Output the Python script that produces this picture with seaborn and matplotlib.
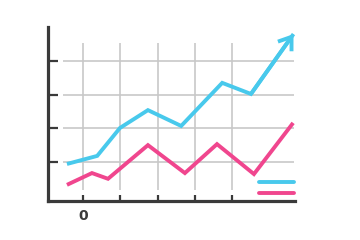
import matplotlib
matplotlib.use("Agg")
import matplotlib.pyplot as plt
from matplotlib.lines import Line2D
import seaborn as sns
import pandas as pd

# data
blue_x = [-0.43, 0.38, 0.99, 1.74, 2.63, 3.73, 4.50, 5.64]
blue_y = [0.94, 1.18, 2.01, 2.54, 2.07, 3.35, 3.02, 4.80]
pink_x = [-0.43, 0.24, 0.67, 1.74, 2.73, 3.59, 4.58, 5.63]
pink_y = [0.32, 0.67, 0.50, 1.50, 0.67, 1.53, 0.64, 2.16]
x_ticks = [0, 1, 2, 3, 4]
x_tick_labels = ["0", "", "", "", ""]
y_ticks = [1, 2, 3, 4]
series_names = ["up", "base"]

BLUE = "#48c9ec"
PINK = "#f0468e"
DARK = "#3a3a3a"
GRID = "#c8c8c8"

sns.set_style("white")
plt.rcParams["font.family"] = ["DejaVu Sans"]

df = pd.concat([
    pd.DataFrame({"x": blue_x, "y": blue_y, "s": series_names[0]}),
    pd.DataFrame({"x": pink_x, "y": pink_y, "s": series_names[1]}),
], ignore_index=True)

fig = plt.figure(figsize=(3.6, 2.4), dpi=100)
ax = fig.add_axes([48 / 360, 1 - 201 / 240, (295 - 48) / 360, (201 - 27) / 240])

ax.set_xlim(-0.938, 5.68)
ax.set_ylim(-0.16, 5.01)

# grid
ax.hlines(y_ticks, -0.54, 5.66, color=GRID, lw=1.2, zorder=1)
ax.vlines(x_ticks, 0.17, 4.53, color=GRID, lw=1.2, zorder=1)

sns.lineplot(data=df, x="x", y="y", hue="s", palette=[BLUE, PINK], sort=False,
             lw=2.8, legend=False, ax=ax, zorder=3)
for ln in ax.get_lines():
    ln.set_clip_on(False)
    ln.set_solid_joinstyle("miter")
    ln.set_solid_capstyle("butt")

# arrow head at end of blue series
ax.annotate("", xy=(blue_x[-1], blue_y[-1]), xytext=(blue_x[-2], blue_y[-2]),
            arrowprops=dict(arrowstyle="->,head_length=0.85,head_width=0.6",
                            color=BLUE, lw=2.8, shrinkA=0, shrinkB=0,
                            joinstyle="miter", capstyle="butt"),
            annotation_clip=False, zorder=4)

# legend keys
handles = [Line2D([], [], color=BLUE, lw=2.8), Line2D([], [], color=PINK, lw=2.8)]
ax.legend(handles, ["", ""], loc="lower right", bbox_to_anchor=(0.997, 0.02),
          frameon=False, fontsize=6, handlelength=4.2, handletextpad=0,
          labelspacing=0.2, borderpad=0, borderaxespad=0)

# axes styling
for side in ["top", "right"]:
    ax.spines[side].set_visible(False)
for side in ["left", "bottom"]:
    ax.spines[side].set_color(DARK)
    ax.spines[side].set_linewidth(2.3)

ax.set_xticks(x_ticks)
ax.set_xticklabels(x_tick_labels)
ax.set_yticks(y_ticks)
ax.set_yticklabels([])
ax.tick_params(axis="x", bottom=True, direction="in", length=4.5, width=1.6,
               color=DARK, labelcolor=DARK, labelsize=10, pad=5.5)
ax.tick_params(axis="y", left=True, direction="in", length=7.5, width=1.6, color=DARK)
for t in ax.get_xticklabels():
    t.set_fontweight("semibold")
ax.set_xlabel("")
ax.set_ylabel("")

fig.savefig("out.png", dpi=100)
